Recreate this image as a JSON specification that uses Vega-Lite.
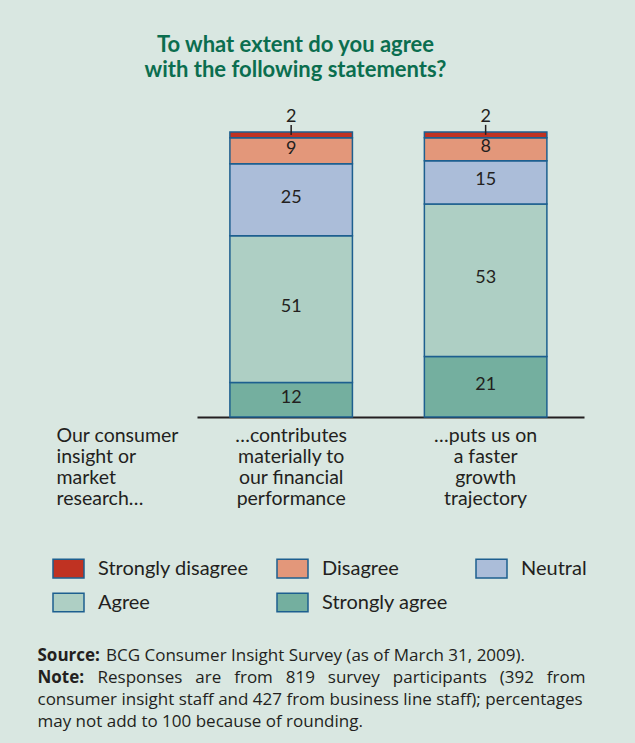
{
  "$schema": "https://vega.github.io/schema/vega-lite/v6.json",
  "width": 387,
  "height": 285,
  "autosize": {"type": "none"},
  "padding": {"left": 197, "top": 132, "right": 51, "bottom": 326},
  "background": "#d9e7e1",
  "config": {"view": {"stroke": null}, "font": "Lato"},
  "title": {
    "text": ["To what extent do you agree", "with the following statements?"],
    "anchor": "middle",
    "frame": "group",
    "dx": -95,
    "offset": 26,
    "fontSize": 22,
    "font": "Lato",
    "fontWeight": "bold",
    "color": "#0b6e4f",
    "lineHeight": 25
  },
  "data": {
    "values": [
      {"cat": "…contributes|materially to|our financial|performance", "level": "Strongly agree", "k": 1, "pct": 12},
      {"cat": "…contributes|materially to|our financial|performance", "level": "Agree", "k": 2, "pct": 51},
      {"cat": "…contributes|materially to|our financial|performance", "level": "Neutral", "k": 3, "pct": 25},
      {"cat": "…contributes|materially to|our financial|performance", "level": "Disagree", "k": 4, "pct": 9},
      {"cat": "…contributes|materially to|our financial|performance", "level": "Strongly disagree", "k": 5, "pct": 2},
      {"cat": "…puts us on|a faster|growth|trajectory", "level": "Strongly agree", "k": 1, "pct": 21},
      {"cat": "…puts us on|a faster|growth|trajectory", "level": "Agree", "k": 2, "pct": 53},
      {"cat": "…puts us on|a faster|growth|trajectory", "level": "Neutral", "k": 3, "pct": 15},
      {"cat": "…puts us on|a faster|growth|trajectory", "level": "Disagree", "k": 4, "pct": 8},
      {"cat": "…puts us on|a faster|growth|trajectory", "level": "Strongly disagree", "k": 5, "pct": 2}
    ]
  },
  "layer": [
    {
      "mark": {"type": "bar", "stroke": "#1d5f8f", "strokeWidth": 1.5},
      "encoding": {
        "x": {
          "field": "cat", "type": "nominal", "sort": null,
          "scale": {"paddingInner": 0.37, "paddingOuter": 0.18, "align": 0.47},
          "axis": {
            "orient": "bottom", "domain": true, "domainColor": "#231f20", "domainWidth": 2,
            "ticks": false, "labelAngle": 0, "labelExpr": "split(datum.label, '|')",
            "labelFontSize": 19.5, "labelLineHeight": 21, "labelColor": "#231f20",
            "labelPadding": 9, "labelBaseline": "top", "labelFont": "Lato",
            "title": ["Our consumer", "insight or", "market", "research…"],
            "titleX": -141, "titleY": 9, "titleAlign": "left", "titleBaseline": "top",
            "titleAngle": 0, "titleFontSize": 19.5, "titleFontWeight": "normal",
            "titleLineHeight": 21, "titleColor": "#231f20", "titleFont": "Lato", "titleLimit": 1000
          }
        },
        "y": {
          "field": "pct", "type": "quantitative", "stack": "zero",
          "scale": {"domain": [0, 99], "nice": false},
          "axis": {
            "orient": "left", "domain": false, "ticks": false, "labels": false, "grid": false,
            "title": [
              "consumer insight staff and 427 from business line staff); percentages",
              "may not add to 100 because of rounding."
            ],
            "titleAngle": 0, "titleX": -160, "titleY": 572.6, "titleAlign": "left",
            "titleBaseline": "alphabetic", "titleFontSize": 17, "titleFontWeight": "normal",
            "titleLineHeight": 22.3, "titleColor": "#231f20", "titleFont": "Open Sans", "titleLimit": 1000
          }
        },
        "color": {
          "field": "level", "type": "nominal",
          "scale": {
            "domain": ["Strongly disagree", "Disagree", "Neutral", "Agree", "Strongly agree"],
            "range": ["#c03222", "#e3977a", "#abbdd9", "#aecfc4", "#74af9f"]
          },
          "legend": {
            "orient": "none", "legendX": -145, "legendY": 420, "direction": "horizontal",
            "columns": 3, "title": null, "symbolType": "M-1,-0.6H1V0.6H-1Z", "symbolSize": 961,
            "symbolStrokeColor": "#1d5f8f", "symbolStrokeWidth": 1.5, "symbolOpacity": 1,
            "labelFontSize": 20, "labelColor": "#231f20", "labelOffset": 13, "labelFont": "Lato",
            "columnPadding": 25, "rowPadding": 5, "padding": 0, "labelLimit": 300
          }
        },
        "order": {"field": "k", "type": "quantitative"}
      }
    },
    {
      "mark": {"type": "text", "baseline": "middle", "dy": -2, "fontSize": 18, "color": "#231f20", "font": "Lato"},
      "encoding": {
        "x": {
          "field": "cat", "type": "nominal", "sort": null,
          "axis": {
            "orient": "top", "domain": false, "ticks": false, "labels": false, "grid": false,
            "title": ["Source:", "Note:"],
            "titleX": -160, "titleY": 528, "titleAlign": "left", "titleBaseline": "alphabetic",
            "titleAngle": 0, "titleFontSize": 17, "titleFontWeight": "bold",
            "titleLineHeight": 22.3, "titleColor": "#231f20", "titleFont": "Open Sans"
          }
        },
        "y": {"field": "pct", "type": "quantitative", "stack": "zero", "bandPosition": 0.5, "axis": null},
        "detail": {"field": "level"},
        "order": {"field": "k", "type": "quantitative"},
        "text": {
          "condition": {"test": "datum.level === 'Strongly disagree'", "value": ""},
          "field": "pct", "type": "quantitative"
        }
      }
    },
    {
      "mark": {"type": "text", "baseline": "alphabetic", "dy": -10, "fontSize": 18, "color": "#231f20", "font": "Lato"},
      "encoding": {
        "x": {"field": "cat", "type": "nominal", "sort": null, "axis": null},
        "y": {"field": "pct", "type": "quantitative", "stack": "zero", "axis": null},
        "detail": {"field": "level"},
        "order": {"field": "k", "type": "quantitative"},
        "text": {
          "condition": {"test": "datum.level === 'Strongly disagree'", "field": "pct", "type": "quantitative"},
          "value": ""
        }
      }
    },
    {
      "mark": {"type": "point", "shape": "M0,-1L0,1", "filled": false, "stroke": "#231f20", "strokeWidth": 1.5, "size": 100, "yOffset": -5},
      "encoding": {
        "x": {"field": "cat", "type": "nominal", "sort": null, "axis": null},
        "y": {
          "field": "pct", "type": "quantitative", "stack": "zero", "bandPosition": 0.5,
          "axis": {
            "orient": "right", "domain": false, "ticks": false, "labels": false, "grid": false,
            "title": [
              "\u200b\u2002BCG Consumer Insight Survey (as of March 31, 2009).",
              "Responses \u2002are \u2002from \u2002819 \u2002survey \u2002participants \u2002(392 \u2002from"
            ],
            "titleAngle": 0, "titleX": -487, "titleY": 528, "titleAlign": "left",
            "titleBaseline": "alphabetic", "titleFontSize": 17, "titleFontWeight": "normal",
            "titleLineHeight": 22.3, "titleColor": "#231f20", "titleFont": "Open Sans", "titleLimit": 1000
          }
        },
        "detail": {"field": "level"},
        "order": {"field": "k", "type": "quantitative"},
        "opacity": {
          "condition": {"test": "datum.level === 'Strongly disagree'", "value": 1},
          "value": 0
        }
      }
    }
  ],
  "resolve": {"axis": {"x": "independent", "y": "independent"}}
}
